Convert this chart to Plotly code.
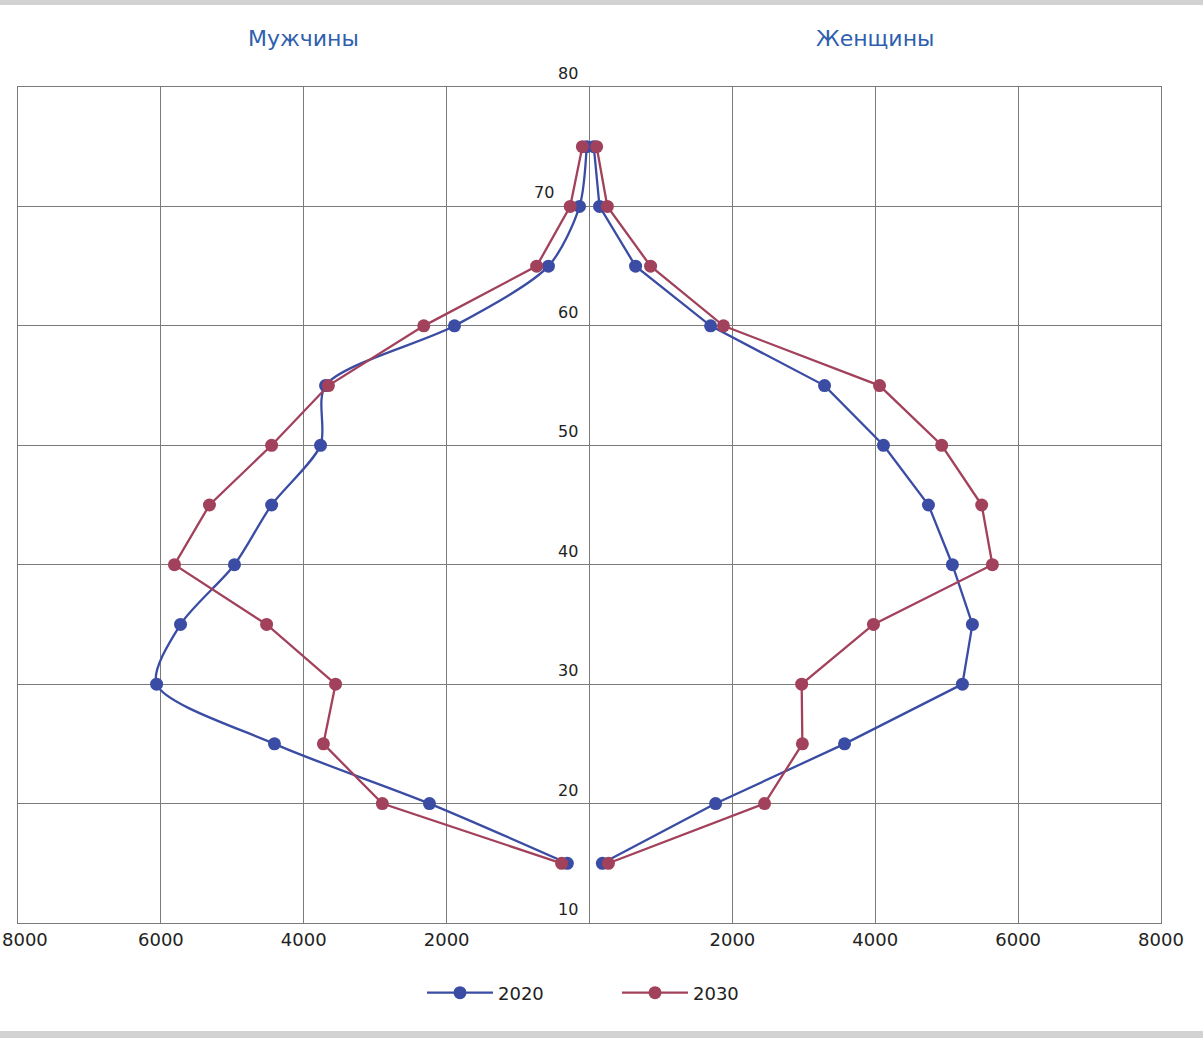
import plotly.graph_objects as go

ages = [15, 20, 25, 30, 35, 40, 45, 50, 55, 60, 65, 70, 75]
male_2020 = [310, 2240, 4410, 6060, 5725, 4970, 4450, 3765, 3695, 1890, 575, 140, 40]
male_2030 = [390, 2900, 3725, 3555, 4520, 5810, 5320, 4450, 3655, 2320, 740, 270, 100]
female_2020 = [180, 1765, 3570, 5220, 5360, 5080, 4745, 4115, 3290, 1695, 645, 140, 60]
female_2030 = [265, 2450, 2980, 2970, 3975, 5640, 5490, 4930, 4060, 1875, 855, 250, 100]

x_tick_vals = [-8000, -6000, -4000, -2000, 0, 2000, 4000, 6000, 8000]
x_tick_text = ["8000", "6000", "4000", "2000", "", "2000", "4000", "6000", "8000"]
y_ticks = [10, 20, 30, 40, 50, 60, 70, 80]

BLUE = "#3a4ca3"
RED = "#a2415b"

W, H = 1203, 1038
L, R, T, B = 18, 42, 87, 115
pw, ph = W - L - R, H - T - B


def px_x(p):
    return (p - L) / pw


def px_y(p):
    return (H - B - p) / ph


fig = go.Figure()
fig.add_trace(go.Scatter(x=[-v for v in male_2020], y=ages, mode="lines+markers",
                         line=dict(color=BLUE, width=2.3, shape="spline", smoothing=0.8),
                         marker=dict(size=13, color=BLUE), name="2020", legendgroup="2020"))
fig.add_trace(go.Scatter(x=female_2020, y=ages, mode="lines+markers",
                         line=dict(color=BLUE, width=2.3),
                         marker=dict(size=13, color=BLUE), name="2020", legendgroup="2020",
                         showlegend=False))
fig.add_trace(go.Scatter(x=[-v for v in male_2030], y=ages, mode="lines+markers",
                         line=dict(color=RED, width=2.3),
                         marker=dict(size=13, color=RED), name="2030", legendgroup="2030"))
fig.add_trace(go.Scatter(x=female_2030, y=ages, mode="lines+markers",
                         line=dict(color=RED, width=2.3),
                         marker=dict(size=13, color=RED), name="2030", legendgroup="2030",
                         showlegend=False))

annotations = []
for t in y_ticks:
    xs = -10 if t != 70 else -34
    annotations.append(dict(x=0, y=t, xref="x", yref="y", text=str(t), showarrow=False,
                            xanchor="right", yanchor="bottom", xshift=xs, yshift=2,
                            font=dict(family="DejaVu Sans", size=16, color="#222")))
annotations.append(dict(x=px_x(303), y=px_y(38), xref="paper", yref="paper", text="Мужчины",
                        showarrow=False, xanchor="center", yanchor="middle",
                        font=dict(family="DejaVu Sans", size=22, color="#2f5fae")))
annotations.append(dict(x=px_x(875), y=px_y(38), xref="paper", yref="paper", text="Женщины",
                        showarrow=False, xanchor="center", yanchor="middle",
                        font=dict(family="DejaVu Sans", size=22, color="#2f5fae")))
# left-most tick label, kept just inside the page edge
annotations.append(dict(x=px_x(0), y=px_y(939), xref="paper", yref="paper", text="8000",
                        showarrow=False, xanchor="left", yanchor="middle",
                        font=dict(family="DejaVu Sans", size=18, color="#222")))

fig.update_layout(
    width=W, height=H,
    margin=dict(l=L, r=R, t=T, b=B, autoexpand=False),
    paper_bgcolor="white", plot_bgcolor="white",
    showlegend=True,
    legend=dict(orientation="h", x=px_x(422), xanchor="left", y=px_y(993),
                yanchor="middle", font=dict(family="DejaVu Sans", size=18, color="#222"),
                itemwidth=66, entrywidth=114, entrywidthmode="pixels"),
    annotations=annotations,
    xaxis=dict(range=[-8000, 8000], tickvals=x_tick_vals, ticktext=x_tick_text,
               showgrid=True, gridcolor="#7a7a7a", gridwidth=1, zeroline=True,
               zerolinecolor="#7a7a7a", zerolinewidth=1,
               showline=True, linecolor="#7a7a7a", mirror=True, ticks="",
               tickfont=dict(family="DejaVu Sans", size=18, color="#222")),
    yaxis=dict(range=[10, 80], tickvals=y_ticks, showticklabels=False,
               showgrid=True, gridcolor="#7a7a7a", gridwidth=1, zeroline=False,
               showline=True, linecolor="#7a7a7a", mirror=True, ticks=""),
    shapes=[
        dict(type="rect", xref="paper", yref="paper", x0=px_x(0), x1=px_x(W),
             y0=px_y(5), y1=px_y(0), fillcolor="#d2d2d2", line=dict(width=0), layer="below"),
        dict(type="rect", xref="paper", yref="paper", x0=px_x(0), x1=px_x(W),
             y0=px_y(H), y1=px_y(1031), fillcolor="#d2d2d2", line=dict(width=0), layer="below"),
    ],
)

fig.write_html("out.html", config={"displayModeBar": False},
               post_script="document.body.style.margin='0';")
